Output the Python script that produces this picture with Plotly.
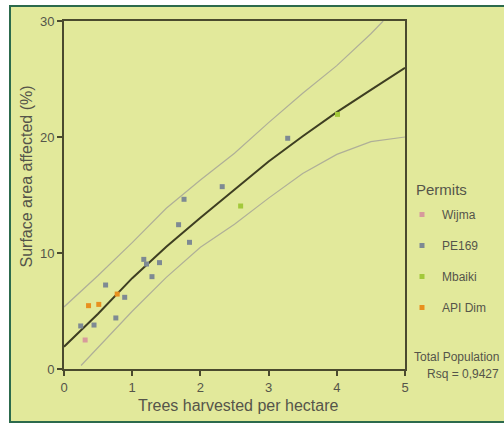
import plotly.graph_objects as go

# ---- data ----
wijma_x = [0.31]
wijma_y = [2.5]
pe_x = [0.245, 0.44, 0.61, 0.76, 0.89, 1.17, 1.21, 1.29, 1.40, 1.68, 1.76, 1.84, 2.32, 3.28]
pe_y = [3.71, 3.79, 7.24, 4.40, 6.18, 9.45, 9.05, 7.96, 9.17, 12.44, 14.63, 10.92, 15.72, 19.89]
mb_x = [2.59, 4.01]
mb_y = [14.05, 21.95]
api_x = [0.36, 0.51, 0.78]
api_y = [5.46, 5.57, 6.46]

fit_x = [0, 0.5, 1, 1.5, 2, 2.5, 3, 3.5, 4, 4.5, 5]
fit_y = [1.92, 4.77, 7.83, 10.54, 13.04, 15.5, 17.89, 20.06, 22.14, 24.06, 25.97]
up_x = [0, 0.5, 1, 1.5, 2, 2.5, 3, 3.5, 4, 4.5, 4.68]
up_y = [5.35, 8.06, 10.9, 13.86, 16.29, 18.6, 21.24, 23.77, 26.15, 28.9, 30]
lo_x = [0.25, 0.5, 1, 1.5, 2, 2.5, 3, 3.5, 4, 4.5, 5]
lo_y = [0.3, 1.85, 4.98, 7.9, 10.5, 12.48, 14.73, 16.86, 18.5, 19.6, 20.0]

x_ticks = [0, 1, 2, 3, 4, 5]
y_ticks = [0, 10, 20, 30]

BG = "#E2E99B"
AX = "#4A4A2E"
TXT = "#55554A"
FONT = "Liberation Sans, Arial, sans-serif"

fig = go.Figure()

fig.add_trace(go.Scatter(x=up_x, y=up_y, mode="lines", line=dict(color="#AFAF98", width=1.2),
                         showlegend=False, hoverinfo="skip"))
fig.add_trace(go.Scatter(x=lo_x, y=lo_y, mode="lines", line=dict(color="#AFAF98", width=1.2),
                         showlegend=False, hoverinfo="skip"))
fig.add_trace(go.Scatter(x=fit_x, y=fit_y, mode="lines", line=dict(color="#3E3E22", width=2),
                         showlegend=False, hoverinfo="skip"))

series = [
    ("Wijma", wijma_x, wijma_y, "#D79A9C"),
    ("PE169", pe_x, pe_y, "#7E8A93"),
    ("Mbaiki", mb_x, mb_y, "#A3C93A"),
    ("API Dim", api_x, api_y, "#E8901E"),
]
for name, xs, ys, col in series:
    fig.add_trace(go.Scatter(x=xs, y=ys, mode="markers", name=name, legendgroup=name,
                             marker=dict(symbol="square", size=5, color=col, line=dict(width=0))))

L, R, T, B = 64, 99, 21, 54
PW, PH = 504 - L - R, 423 - T - B

def px(x):
    return (x - L) / PW

def py(y):
    return (423 - B - y) / PH

fig.update_layout(
    width=504, height=423,
    margin=dict(l=L, r=R, t=T, b=B, pad=0, autoexpand=False),
    paper_bgcolor="white",
    plot_bgcolor=BG,
    font=dict(family=FONT, color=TXT, size=13),
    xaxis=dict(range=[0, 5], tickvals=x_ticks, showgrid=False, zeroline=False,
               showline=True, linecolor=AX, linewidth=2, mirror=True,
               ticks="outside", ticklen=5, tickwidth=2, tickcolor=AX,
               tickfont=dict(size=13, color=TXT)),
    yaxis=dict(range=[0, 30], tickvals=y_ticks, showgrid=False, zeroline=False,
               showline=True, linecolor=AX, linewidth=2, mirror=True,
               ticks="outside", ticklen=5, tickwidth=2, tickcolor=AX,
               tickfont=dict(size=13, color=TXT)),
    legend=dict(x=px(402), y=py(200), xanchor="left", yanchor="top",
                bgcolor="rgba(0,0,0,0)", font=dict(size=12, color=TXT),
                tracegroupgap=12),
    shapes=[dict(type="rect", xref="paper", yref="paper", layer="below",
                 x0=px(10), x1=px(515), y0=py(422), y1=py(6),
                 fillcolor=BG, line=dict(color="#2C6A4C", width=2))],
    annotations=[
        dict(text="Surface area affected (%)", textangle=-90, x=px(25.5), y=py(177),
             xref="paper", yref="paper", showarrow=False, xanchor="center", yanchor="middle",
             font=dict(size=16, color=TXT)),
        dict(text="Trees harvested per hectare", x=px(238), y=py(405),
             xref="paper", yref="paper", showarrow=False, xanchor="center", yanchor="middle",
             font=dict(size=16, color=TXT)),
        dict(text="Permits", x=px(414), y=py(189), xref="paper", yref="paper",
             showarrow=False, xanchor="left", yanchor="middle", font=dict(size=15, color=TXT)),
        dict(text="Total Population", x=px(501), y=py(357), xref="paper", yref="paper",
             showarrow=False, xanchor="right", yanchor="middle", font=dict(size=12, color=TXT)),
        dict(text="Rsq = 0,9427", x=px(501), y=py(374), xref="paper", yref="paper",
             showarrow=False, xanchor="right", yanchor="middle", font=dict(size=12, color=TXT)),
    ],
)

fig.write_html("out.html", config={"displayModeBar": False},
               post_script="document.body.style.margin='0';document.body.style.overflow='hidden';")
